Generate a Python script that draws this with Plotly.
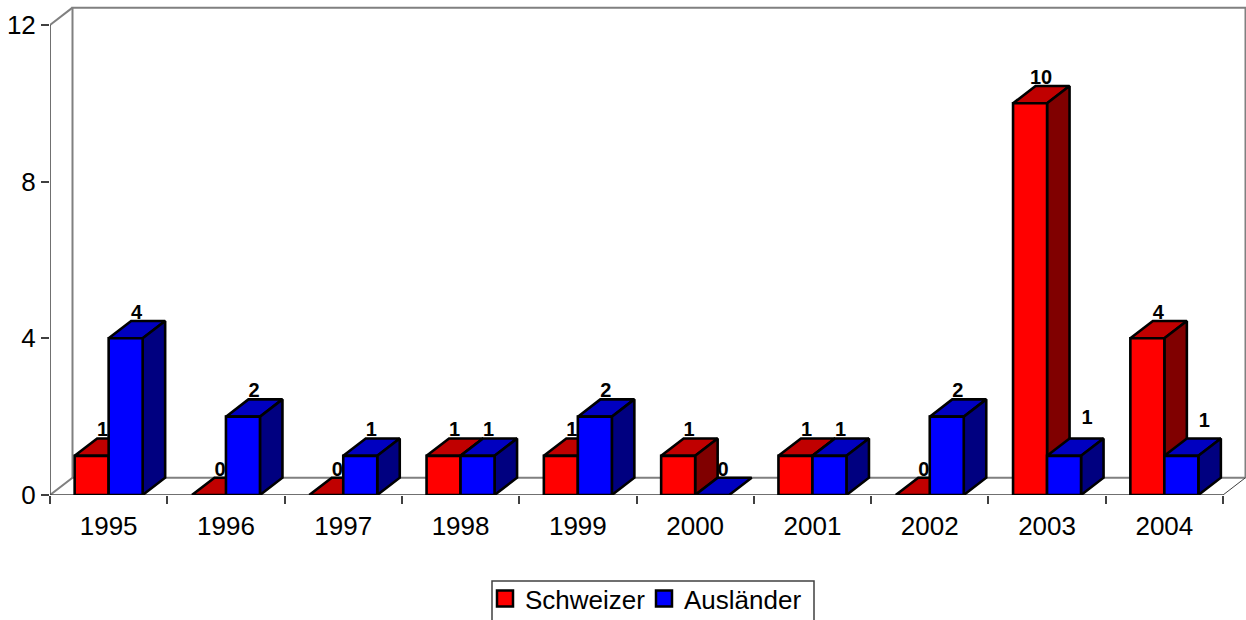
import plotly.graph_objects as go

years = ["1995","1996","1997","1998","1999","2000","2001","2002","2003","2004"]
schweizer = [1,0,0,1,1,1,1,0,10,4]
auslaender = [4,2,1,1,2,0,1,2,1,1]
y_ticks = [0,4,8,12]

W, H = 1246, 620
PX_X = 117.3   # px per category
PX_Y = 39.17   # px per value unit
X0, Y0 = 50, 495
DX = 22.5 / PX_X
DY = 17.3 / PX_Y
BAR = 34 / PX_X
# hand-moved labels in the source (series index, category index): px offsets
moved = {(1, 8): (23, 37), (1, 9): (23, 34)}

series = [
    ("Schweizer", schweizer, "#ff0000", "#c00000", "#800000"),
    ("Ausländer", auslaender, "#0000ff", "#0000c0", "#000080"),
]

fig = go.Figure()

def poly(xs, ys, fill):
    fig.add_trace(go.Scatter(x=xs + xs[:1], y=ys + ys[:1], mode="lines", fill="toself",
                             fillcolor=fill, line=dict(color="black", width=2.6),
                             showlegend=False, hoverinfo="skip", cliponaxis=False))

def line(xs, ys, color, width):
    fig.add_trace(go.Scatter(x=xs, y=ys, mode="lines", line=dict(color=color, width=width),
                             showlegend=False, hoverinfo="skip", cliponaxis=False))

n = len(years)
top = y_ticks[-1]
# back wall and floor
line([DX, DX, n + DX, n + DX], [DY, top + DY, top + DY, DY], "#808080", 2)
line([0, DX, n + DX], [0, DY, DY], "#808080", 2)
line([0, DX], [top, top + DY], "#808080", 2)
line([n, n + DX], [0, DY], "#404040", 1)
# front axes
line([0, 0], [0, top], "#404040", 1.5)
line([0, n], [0, 0], "#404040", 1.5)

for i in range(n):
    c = i + 0.5
    for s, (_, vals, front, upper, side) in enumerate(series):
        v = vals[i]
        x0 = c - BAR + s * BAR
        x1 = x0 + BAR
        poly([x0, x0 + DX, x1 + DX, x1], [v, v + DY, v + DY, v], upper)
        if v > 0:
            poly([x1, x1 + DX, x1 + DX, x1], [0, DY, v + DY, v], side)
            poly([x0, x1, x1, x0], [0, 0, v, v], front)

for s, (name, vals, *_r) in enumerate(series):
    xs, ys = [], []
    for i, v in enumerate(vals):
        ox, oy = moved.get((s, i), (11, 24.5))
        xs.append(i + 0.5 + (s - 0.5) * BAR + ox / PX_X)
        ys.append(v + oy / PX_Y)
    fig.add_trace(go.Scatter(x=xs, y=ys, mode="text", text=[str(v) for v in vals],
                             textposition="middle center",
                             textfont=dict(family="Liberation Sans", size=20, color="black", weight="bold"),
                             showlegend=False, hoverinfo="skip", cliponaxis=False))

for name, vals, front, *_r in series:
    fig.add_trace(go.Scatter(x=[None], y=[None], mode="markers", name=name,
                             marker=dict(symbol="square", size=16, color=front,
                                         line=dict(color="black", width=2.5))))

fig.update_layout(
    width=W, height=H, autosize=False,
    margin=dict(l=0, r=0, t=0, b=0, autoexpand=False),
    paper_bgcolor="white", plot_bgcolor="white",
    font=dict(family="Liberation Sans", size=26, color="black"),
    xaxis=dict(domain=[X0 / W, 1], range=[0, (W - X0) / PX_X],
               tickvals=[i + 0.5 for i in range(n)], ticktext=years,
               ticks="", ticklabelstandoff=13,
               minor=dict(tickvals=list(range(n + 1)), ticks="outside", ticklen=8,
                          tickcolor="#404040", tickwidth=1.5),
               showgrid=False, zeroline=False, showline=False),
    yaxis=dict(domain=[(H - Y0) / H, 1], range=[0, Y0 / PX_Y],
               tickvals=y_ticks, ticks="outside", ticklen=8, tickcolor="#404040", tickwidth=1.5,
               showgrid=False, zeroline=False, showline=False),
    legend=dict(orientation="h", x=485 / W, xanchor="left", y=(H - 575) / H, yanchor="top",
                borderwidth=0, bgcolor="rgba(0,0,0,0)", entrywidth=114, entrywidthmode="pixels",
                font=dict(family="Liberation Sans", size=26)),
    shapes=[dict(type="rect", xref="paper", yref="paper",
                 x0=492 / W, x1=814 / W, y0=-0.1, y1=(H - 581) / H,
                 line=dict(color="#404040", width=1.5), fillcolor="rgba(0,0,0,0)")],
)

fig.write_html("out.html", config={"displayModeBar": False},
               post_script="document.body.style.margin='0';document.documentElement.style.overflow='hidden';")
